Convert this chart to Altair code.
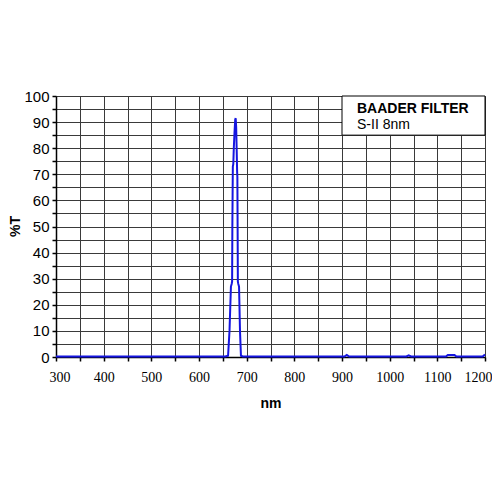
import altair as alt
import pandas as pd

# Transmission curve (nm, %T)
wavelength = [300, 600, 655, 661, 664, 667, 668.5, 669.5, 670, 670.5, 671, 672, 673,
              674.5, 676, 677, 678, 679, 680, 680.5, 681, 681.5, 682.5, 684, 686, 688,
              692, 905, 910, 915, 1035, 1040, 1045, 1118, 1122, 1136, 1140, 1195, 1200]
transmission = [0.2, 0.2, 0.2, 0.5, 10, 27, 28, 29, 50, 62, 73, 74, 80,
                86, 91, 91.5, 88, 80, 71, 69, 50, 29, 28, 27, 10, 0.5,
                0.2, 0.2, 0.8, 0.2, 0.2, 0.6, 0.2, 0.2, 0.8, 0.8, 0.2, 0.2, 1.0]

x_ticks = list(range(300, 1201, 50))
y_ticks = list(range(0, 101, 5))

# Legend box extent (data units)
box_x = [900]
box_x2 = [1200]
box_y = [85]
box_y2 = [100]
legend_lines = ["BAADER FILTER", "S-II 8nm"]

FONT = "Liberation Sans"

df = pd.DataFrame({"nm": wavelength, "T": transmission})
box_df = pd.DataFrame({"x": box_x, "x2": box_x2, "y": box_y, "y2": box_y2})

xscale = alt.Scale(domain=[300, 1200], nice=False, zero=False)
yscale = alt.Scale(domain=[0, 100], nice=False)

common = dict(tickSize=4, titleFontSize=14, titleFontWeight="bold",
              titleFont=FONT, labelColor="black", titleColor="black",
              domainColor="black", domainWidth=1.5, tickColor="black", tickWidth=1.5,
              grid=True, gridColor="#3a3a3a", gridWidth=1, gridOpacity=1,
              labelOverlap=False, labelBound=False)

xaxis = alt.Axis(values=x_ticks,
                 labelExpr="datum.value % 100 == 0 ? datum.label : ''",
                 format="d", labelPadding=9, labelFontSize=14,
                 labelFont="Liberation Sans Narrow",
                 labelFlush=True, labelFlushOffset=7,
                 titleY=46, titleBaseline="middle", **common)
yaxis = alt.Axis(values=y_ticks,
                 labelExpr="datum.value % 10 == 0 ? datum.label : ''",
                 format="d", labelPadding=3, labelFontSize=15, labelFont=FONT,
                 labelFlush=False,
                 titleX=-41, titleY=130, titleAlign="center",
                 titleBaseline="middle", **common)

box = alt.Chart(box_df).mark_rect(fill="white", stroke="black", strokeWidth=1).encode(
    x=alt.X("x:Q", scale=xscale, title="nm", axis=xaxis), x2="x2:Q",
    y=alt.Y("y:Q", scale=yscale, title="%T", axis=yaxis), y2="y2:Q",
)

line = alt.Chart(df).mark_line(color="#1515e0", strokeWidth=2).encode(
    x=alt.X("nm:Q", scale=xscale, title="nm", axis=xaxis),
    y=alt.Y("T:Q", scale=yscale, title="%T", axis=yaxis),
)

t1 = alt.Chart(pd.DataFrame({"t": [legend_lines[0]]})).mark_text(
    align="left", baseline="alphabetic", fontSize=14, fontWeight="bold", font=FONT, color="black"
).encode(text="t:N", x=alt.value(301), y=alt.value(16.5))

t2 = alt.Chart(pd.DataFrame({"t": [legend_lines[1]]})).mark_text(
    align="left", baseline="alphabetic", fontSize=14, font=FONT, color="black"
).encode(text="t:N", x=alt.value(301), y=alt.value(33))

chart = alt.layer(line, box, t1, t2).properties(
    width=429, height=261,
    autosize=alt.AutoSizeParams(type="none"),
    padding={"left": 48, "top": 88, "right": 7, "bottom": 60},
).configure_view(
    stroke="black", strokeWidth=1
).configure(background="white")

chart.save("out.html", embed_options={"renderer": "svg", "actions": False})
